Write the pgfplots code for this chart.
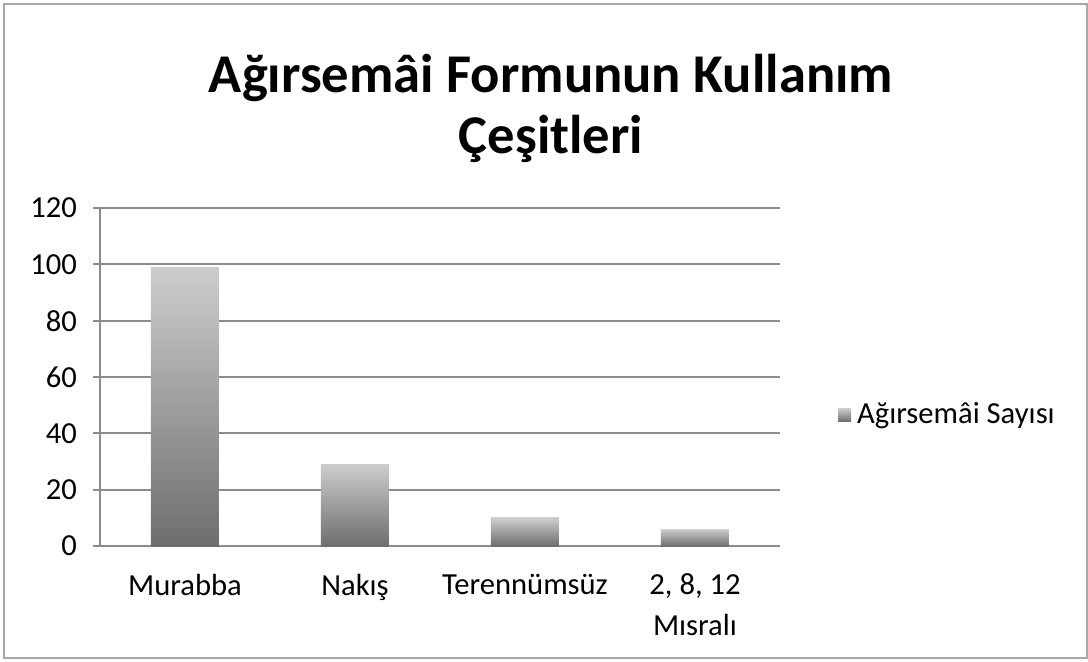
\documentclass[border=0pt]{standalone}
\usepackage{fontspec}
\setmainfont{Carlito}
\usepackage{pgfplots}
\pgfplotsset{compat=1.18}
\definecolor{gridgray}{HTML}{8C8C8C}
\definecolor{framegray}{HTML}{A8A8A8}
\definecolor{barlight}{HTML}{CDCDCD}
\definecolor{bardark}{HTML}{6E6E6E}
\newcommand{\tickfont}{\fontsize{15.3}{20.5}\selectfont}
\begin{document}
\begin{tikzpicture}[x=1pt,y=1pt]
\path[use as bounding box] (-50,-57.5) rectangle (494,273);
\draw[framegray, line width=1pt] (-48,-56) rectangle (493.5,271);
\begin{axis}[
  at={(0,0)}, anchor=south west,
  scale only axis, width=340pt, height=169pt,
  xmin=-0.5, xmax=3.5, ymin=0, ymax=120,
  ytick={0,20,...,120},
  xtick={0,1,2,3},
  xticklabels={Murabba, Nakış, Terennümsüz, {2, 8, 12\\Mısralı}},
  minor xtick={-0.5,0.5,1.5,2.5,3.5},
  axis x line*=bottom, axis y line*=left,
  axis line style={gridgray, line width=1pt, -},
  ymajorgrids, grid style={gridgray, line width=1pt},
  tick align=outside,
  xtick style={draw=none},
  ytick style={gridgray, line width=1pt},
  major tick length=3.5pt,
  minor tick length=4pt,
  every minor tick/.style={gridgray, line width=1pt},
  tick label style={font=\tickfont},
  xticklabel style={align=center, yshift=-7pt},
  yticklabel style={anchor=east, xshift=-4.5pt},
  /pgf/number format/assume math mode=true,
  legend style={at={(1.085,0.388)}, anchor=west, draw=none, fill=none, font=\tickfont, inner sep=0pt,
    nodes={inner xsep=3pt}},
  legend image code/.code={\shade[top color=barlight, bottom color=bardark] (0pt,-3.3pt) rectangle (6.5pt,3.3pt);},
  bar width=34pt,
]
\addplot[ybar, draw=none, top color=barlight, bottom color=bardark] coordinates {(0,99)};
\addlegendentry{Ağırsemâi Sayısı}
\addplot[ybar, draw=none, top color=barlight, bottom color=bardark, forget plot] coordinates {(1,29)};
\addplot[ybar, draw=none, top color=barlight, bottom color=bardark, forget plot] coordinates {(2,10)};
\addplot[ybar, draw=none, top color=barlight, bottom color=bardark, forget plot] coordinates {(3,6)};
\end{axis}
\node[anchor=base, font=\fontsize{27.3}{32}\selectfont\bfseries] at (225.5,227) {Ağırsemâi Formunun Kullanım};
\node[anchor=base, font=\fontsize{27.3}{32}\selectfont\bfseries] at (225.5,196.5) {Çeşitleri};
\end{tikzpicture}
\end{document}
